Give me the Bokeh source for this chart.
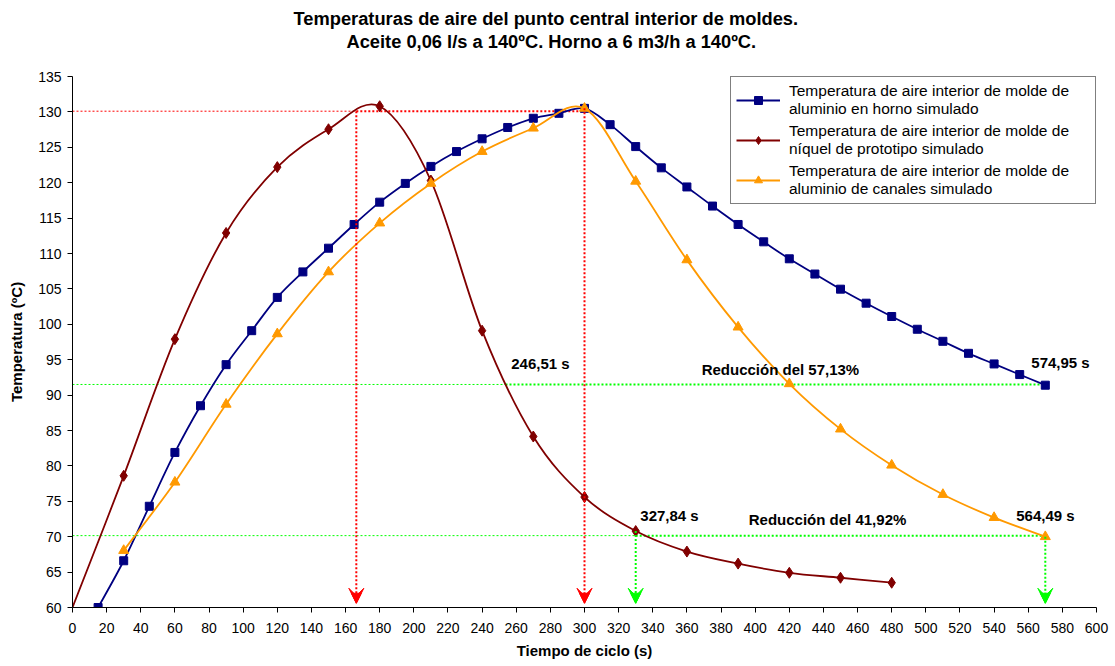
import numpy as np
from bokeh.plotting import figure
from bokeh.models import (Range1d, Label, Arrow, VeeHead, NormalHead, Legend,
                          LegendItem, ColumnDataSource, FixedTicker, Title)
from bokeh.embed import file_html
from bokeh.resources import INLINE

# ---------------- data ----------------
t_horno = list(range(15, 571, 15))
temp_horno = [60.0, 66.6, 74.3, 81.9, 88.5, 94.3, 99.1, 103.8, 107.4, 110.75,
              114.1, 117.25, 119.9, 122.3, 124.4, 126.2, 127.8, 129.1, 129.8, 130.5,
              128.2, 125.1, 122.1, 119.4, 116.7, 114.1, 111.65, 109.25, 107.1, 104.96,
              102.98, 101.1, 99.3, 97.6, 95.9, 94.4, 92.9, 91.4]

t_niquel = list(range(0, 481, 30))
temp_niquel = [60.0, 78.6, 97.9, 112.9, 122.2, 127.55, 130.8, 120.3, 99.1, 84.15,
               75.6, 70.8, 67.9, 66.2, 64.9, 64.2, 63.5]

t_canales = list(range(30, 571, 30))
temp_canales = [68.05, 77.7, 88.7, 98.65, 107.4, 114.3, 119.9, 124.4, 127.7, 130.5,
                120.2, 109.1, 99.6, 91.6, 85.2, 80.1, 75.96, 72.7, 70.0]

series_labels = [
    "Temperatura de aire interior de molde de\naluminio en horno simulado",
    "Temperatura de aire interior de molde de\nníquel de prototipo simulado",
    "Temperatura de aire interior de molde de\naluminio de canales simulado",
]

title_lines = ["Temperaturas de aire del punto central interior de moldes.",
               "Aceite 0,06 l/s a 140ºC. Horno a 6 m3/h a 140ºC."]

x_ticks = list(range(0, 601, 20))
y_ticks = list(range(60, 136, 5))

# reference lines (annotation values)
h_y = [130.1, 91.5, 70.15]
h_split = [166.3, 253.7, 330.0]
h_end = [300.0, 570.0, 570.0]
h_colors = ["#FF0000", "#00FF00", "#00FF00"]
arrow_x = [166.3, 300.0, 330.0, 570.0]
arrow_top = [130.1, 130.5, 70.8, 70.0]
arrow_colors = ["#FF0000", "#FF0000", "#00FF00", "#00FF00"]

ann_text = ["246,51 s", "Reducción del 57,13%", "574,95 s",
            "327,84 s", "Reducción del 41,92%", "564,49 s"]
ann_x = [274.2, 414.8, 578.9, 349.8, 442.4, 570.1]
ann_y = [94.5, 93.6, 94.6, 73.0, 72.4, 73.0]

FONT = "Liberation Sans"

# ---------------- figure ----------------
p = figure(width=1113, height=665, output_backend="svg", toolbar_location=None,
           x_range=Range1d(0, 600), y_range=Range1d(60, 135),
           min_border_left=72, min_border_right=17, min_border_top=76,
           min_border_bottom=58)
p.title = None
p.outline_line_color = None
p.xgrid.visible = False
p.ygrid.visible = False
p.background_fill_color = "white"

for ax in (p.xaxis[0], p.yaxis[0]):
    ax.major_tick_in = 0
    ax.major_tick_out = 5
    ax.minor_tick_in = 0
    ax.minor_tick_out = 0
    ax.axis_line_color = "black"
    ax.major_tick_line_color = "black"
    ax.major_label_text_font = FONT
    ax.major_label_text_font_size = "14px"
    ax.major_label_text_color = "black"
    ax.axis_label_text_font = FONT
    ax.axis_label_text_font_size = "15px"
    ax.axis_label_text_font_style = "bold"
    ax.axis_label_text_color = "black"

p.xaxis.ticker = FixedTicker(ticks=x_ticks)
p.yaxis.ticker = FixedTicker(ticks=y_ticks)
p.xaxis.axis_label = "Tiempo de ciclo (s)"
p.yaxis.axis_label = "Temperatura (ºC)"
p.xaxis.major_label_standoff = 10
p.yaxis.major_label_standoff = 6
p.xaxis.axis_label_standoff = 6
p.yaxis.axis_label_standoff = 10


def bezier_source(x, y):
    x = np.asarray(x, float)
    y = np.asarray(y, float)
    n = len(x)
    i = np.arange(n - 1)
    im1 = np.clip(i - 1, 0, n - 1)
    ip2 = np.clip(i + 2, 0, n - 1)
    return ColumnDataSource(dict(
        x0=x[i], y0=y[i], x1=x[i + 1], y1=y[i + 1],
        cx0=x[i] + (x[i + 1] - x[im1]) / 6, cy0=y[i] + (y[i + 1] - y[im1]) / 6,
        cx1=x[i + 1] - (x[ip2] - x[i]) / 6, cy1=y[i + 1] - (y[ip2] - y[i]) / 6,
    ))


# dotted reference lines
thin = ColumnDataSource(dict(x0=[0.0] * 3, x1=h_split, y=h_y, c=h_colors))
thick = ColumnDataSource(dict(x0=h_split, x1=h_end, y=h_y, c=h_colors))
p.segment(x0="x0", x1="x1", y0="y", y1="y", line_color="c", line_width=1,
          line_dash="2 2", source=thin)
p.segment(x0="x0", x1="x1", y0="y", y1="y", line_color="c", line_width=2,
          line_dash="2 2", source=thick)
for xa, ya, ca in zip(arrow_x, arrow_top, arrow_colors):
    p.add_layout(Arrow(x_start=xa, y_start=ya, x_end=xa, y_end=60.6,
                       line_color=ca, line_width=2, line_dash="2 2",
                       end=VeeHead(size=15, fill_color=ca, fill_alpha=1.0,
                                   line_color=ca, line_width=1)))
    p.add_layout(Arrow(x_start=xa, y_start=ya, x_end=xa, y_end=60.6,
                       line_alpha=0.0,
                       end=NormalHead(size=10, fill_color=ca, fill_alpha=1.0,
                                      line_color=ca, line_width=1)))

colors = ["#000080", "#800000", "#FF9900"]
xs = [t_horno, t_niquel, t_canales]
ys = [temp_horno, temp_niquel, temp_canales]
markers = ["square", "diamond", "triangle"]
msizes = [8, 11, 10]
first_marker = [0, 1, 0]

items = []
for xv, yv, col, mk, ms, f0, lab in zip(xs, ys, colors, markers, msizes,
                                         first_marker, series_labels):
    src = bezier_source(xv, yv)
    r1 = p.bezier(x0="x0", y0="y0", x1="x1", y1="y1", cx0="cx0", cy0="cy0",
                  cx1="cx1", cy1="cy1", line_color=col, line_width=1.8, source=src)
    r2 = p.scatter(xv[f0:], yv[f0:], marker=mk, size=ms, fill_color=col,
                   line_color=col)
    items.append(LegendItem(label=lab, renderers=[r1, r2]))

legend = Legend(items=items, location="top_right", margin=0, padding=5,
                spacing=4, glyph_width=44, label_standoff=9, label_width=301,
                border_line_color="black", border_line_width=1,
                background_fill_color="white", background_fill_alpha=1.0,
                label_text_font=FONT, label_text_font_size="15.5px",
                label_text_line_height=1.0, label_text_color="black")
p.add_layout(legend)

for txt, xa, ya in zip(ann_text, ann_x, ann_y):
    p.add_layout(Label(x=xa, y=ya, text=txt, text_align="center",
                       text_baseline="middle", text_font=FONT,
                       text_font_size="15px", text_font_style="bold",
                       text_color="black"))

# title: two lines above the frame; a blank spacer sits next to the frame,
# then the second line, then the first line (outermost)
p.add_layout(Title(text=" ", standoff=6, text_font=FONT,
                   text_font_size="16px"), "above")
title_offsets = [221, 274]
title_standoffs = [0, 0]
for txt, off, so in list(zip(title_lines, title_offsets, title_standoffs))[::-1]:
    p.add_layout(Title(text=txt, align="left", offset=off, standoff=so,
                       text_font=FONT, text_font_size="18.3px",
                       text_font_style="bold", text_color="black"), "above")

open("out.html", "w").write(file_html(p, INLINE))
